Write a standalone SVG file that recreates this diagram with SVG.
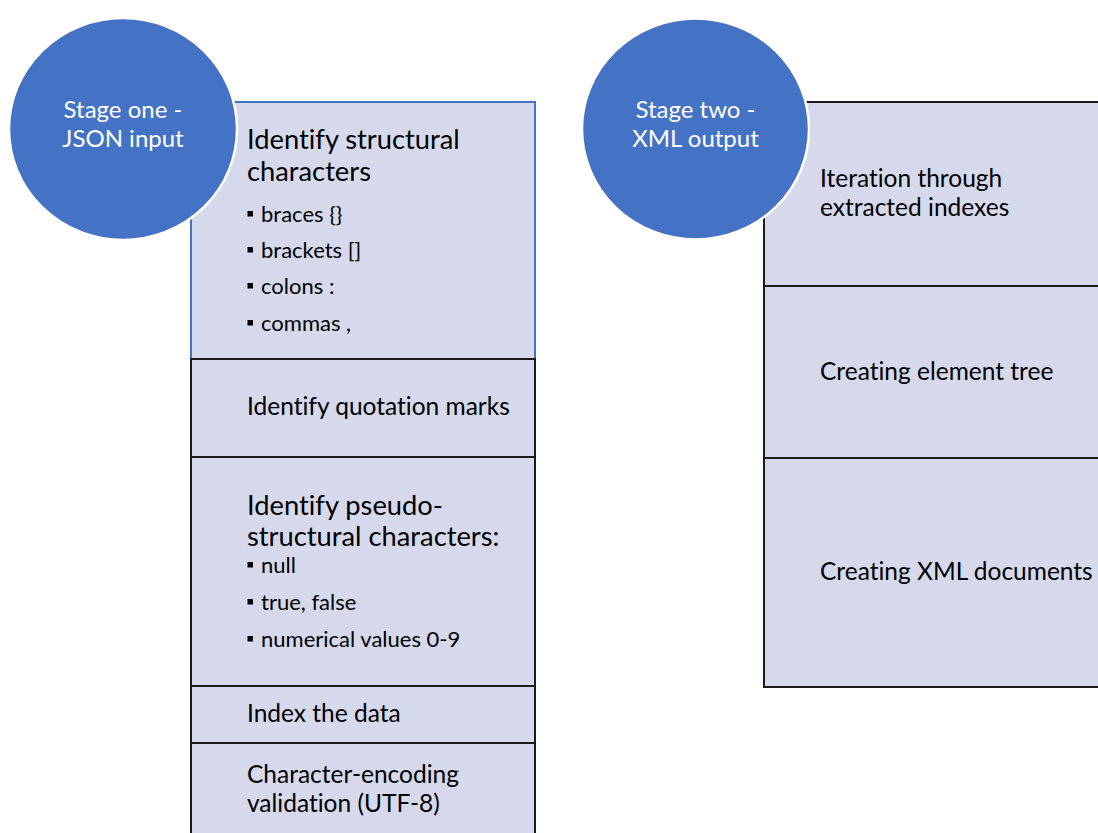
<svg xmlns="http://www.w3.org/2000/svg" width="1098" height="833" viewBox="0 0 1098 833">
<style>
.cell{fill:#D5D9EB;stroke:#1a1a1a;stroke-width:2}
.cellb{fill:#D5D9EB;stroke:#4472C4;stroke-width:2}
.circ{fill:#4472C4;stroke:#ffffff;stroke-width:2.5}
text{font-family:Lato,"Open Sans",sans-serif;fill:#000;font-variant-ligatures:none}
.ct{fill:#fff;font-size:24px;text-anchor:middle}
.h{font-size:27.3px}
.m{font-size:24.5px}
.b{font-size:22px}
.sq{fill:#000}
</style>
<rect width="1098" height="833" fill="#fff"/>
<g id="left-stack">
<g id="cell-structural">
<rect class="cellb" x="191" y="102" width="344" height="257"/>
<text class="h" x="247" y="149">Identify structural</text>
<text class="h" x="247" y="181">characters</text>
<rect class="sq" x="247.5" y="211" width="5.5" height="5.5"/><text class="b" x="261" y="222">braces {}</text>
<rect class="sq" x="247.5" y="247" width="5.5" height="5.5"/><text class="b" x="261" y="258">brackets []</text>
<rect class="sq" x="247.5" y="283" width="5.5" height="5.5"/><text class="b" x="261" y="294">colons :</text>
<rect class="sq" x="247.5" y="320" width="5.5" height="5.5"/><text class="b" x="261" y="331">commas ,</text>
</g>
<g id="cell-quotation">
<rect class="cell" x="191" y="359" width="344" height="98"/>
<text class="m" x="247" y="415">Identify quotation marks</text>
</g>
<g id="cell-pseudo">
<rect class="cell" x="191" y="457" width="344" height="229"/>
<text class="h" x="247" y="515">Identify pseudo-</text>
<text class="h" x="247" y="546">structural characters:</text>
<rect class="sq" x="247.5" y="562" width="5.5" height="5.5"/><text class="b" x="261" y="573">null</text>
<rect class="sq" x="247.5" y="599" width="5.5" height="5.5"/><text class="b" x="261" y="610">true, false</text>
<rect class="sq" x="247.5" y="636" width="5.5" height="5.5"/><text class="b" x="261" y="647">numerical values 0-9</text>
</g>
<g id="cell-index">
<rect class="cell" x="191" y="686" width="344" height="57"/>
<text class="m" x="247" y="722">Index the data</text>
</g>
<g id="cell-encoding">
<rect class="cell" x="191" y="743" width="344" height="100"/>
<text class="m" x="247" y="783">Character-encoding</text>
<text class="m" x="247" y="812">validation (UTF-8)</text>
</g>
</g>
<g id="right-stack">
<g id="cell-iteration">
<rect class="cell" x="764" y="102" width="340" height="184"/>
<text class="m" x="820" y="187">Iteration through</text>
<text class="m" x="820" y="216">extracted indexes</text>
</g>
<g id="cell-tree">
<rect class="cell" x="764" y="286" width="340" height="172"/>
<text class="m" x="820" y="380">Creating element tree</text>
</g>
<g id="cell-xml">
<rect class="cell" x="764" y="458" width="340" height="229"/>
<text class="m" x="820" y="580">Creating XML documents</text>
</g>
</g>
<g id="connectors"></g>
<g id="stage-one">
<ellipse class="circ" cx="123" cy="129" rx="114" ry="111"/>
<text class="ct" x="123" y="118">Stage one -</text>
<text class="ct" x="123" y="147">JSON input</text>
</g>
<g id="stage-two">
<ellipse class="circ" cx="695.5" cy="129" rx="113.5" ry="110.5"/>
<text class="ct" x="695.5" y="118">Stage two -</text>
<text class="ct" x="695.5" y="147">XML output</text>
</g>
</svg>
